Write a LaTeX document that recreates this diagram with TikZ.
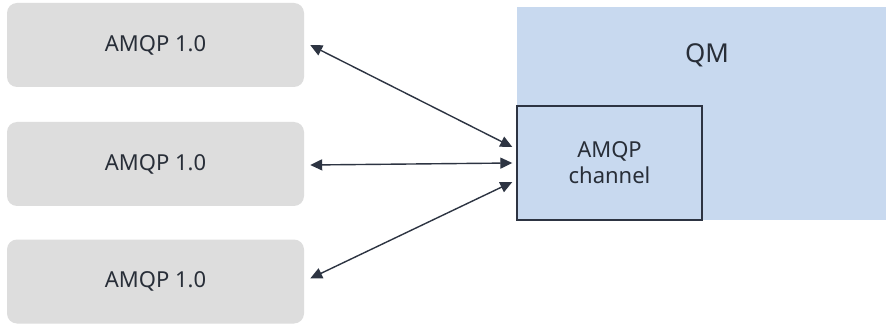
\documentclass[tikz,border=0pt]{standalone}
\usepackage{fontspec}
\setmainfont{Noto Sans}
\usetikzlibrary{arrows.meta}
\definecolor{boxgray}{RGB}{221,221,221}
\definecolor{qmblue}{RGB}{200,217,239}
\definecolor{edgedark}{RGB}{45,52,66}
\definecolor{txt}{RGB}{40,46,56}
\begin{document}
\begin{tikzpicture}[x=1pt,y=-1pt,
  client/.style={fill=boxgray,draw=none,rounded corners=10pt,minimum width=297pt,minimum height=84pt,inner sep=0pt,text=txt,font=\fontsize{22}{26}\selectfont},
  qmbox/.style={fill=qmblue,draw=none,minimum width=369pt,minimum height=213pt,inner sep=0pt},
  chbox/.style={fill=qmblue,draw=edgedark,line width=1.4pt,minimum width=185pt,minimum height=114pt,inner sep=0pt,text=txt,align=center,font=\fontsize{22}{26}\selectfont},
  arr/.style={draw=edgedark,line width=1.4pt,{Triangle[length=12pt,width=11pt]}-{Triangle[length=12pt,width=11pt]}}]
\useasboundingbox[fill=white] (0,0) rectangle (886,331);
\node[client] (b1) at (155.5,45) {AMQP 1.0};
\node[client] (b2) at (155.5,164) {AMQP 1.0};
\node[client] (b3) at (155.5,281.5) {AMQP 1.0};
\node[qmbox] (qm) at (701.5,113.5) {};
\node[text=txt,font=\fontsize{26}{30}\selectfont] (qml) at (707,55) {QM};
\node[chbox] (ch) at (609.5,163) {AMQP\\channel};
\draw[arr] ([xshift=6pt]b1.east) -- ([xshift=-4pt,yshift=16pt]ch.west);
\draw[arr] ([xshift=6pt,yshift=-1pt]b2.east) -- ([xshift=-4pt]ch.west);
\draw[arr] ([xshift=6pt,yshift=3pt]b3.east) -- ([xshift=-4pt,yshift=-19pt]ch.west);
\end{tikzpicture}
\end{document}
